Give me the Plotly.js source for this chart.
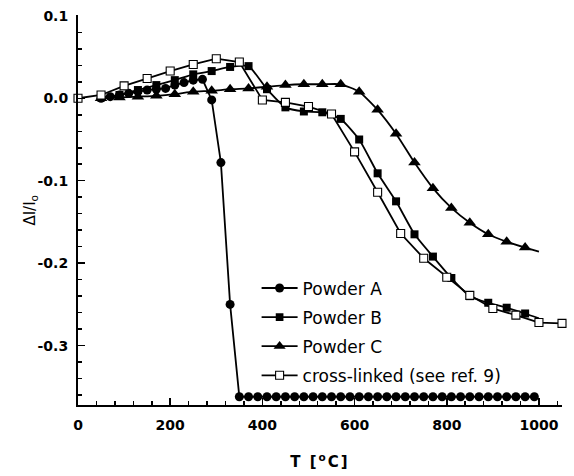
<!DOCTYPE html>
<html>
<head>
<meta charset="utf-8">
<script src="https://cdn.plot.ly/plotly-3.0.1.min.js"></script>
<style>
html,body{margin:0;padding:0;background:#fff;}
#chart{width:574px;height:476px;}
#chart .xtitle{letter-spacing:2px;}
</style>
</head>
<body>
<div id="chart"></div>
<script>
// ---- data ----
const seriesNames = ['Powder A', 'Powder B', 'Powder C', 'cross-linked (see ref. 9)'];

const powderA_T = [50,70,90,110,130,150,170,190,210,230,250,270,290,310,330,350,370,390,410,430,450,470,490,510,530,550,570,590,610,630,650,670,690,710,730,750,770,790,810,830,850,870,890,910,930,950,970,990];
const powderA_dI = [0.000,0.002,0.004,0.006,0.008,0.010,0.011,0.012,0.016,0.019,0.022,0.023,-0.002,-0.078,-0.250,
  -0.362,-0.362,-0.362,-0.362,-0.362,-0.362,-0.362,-0.362,-0.362,-0.362,-0.362,-0.362,-0.362,-0.362,-0.362,-0.362,-0.362,
  -0.362,-0.362,-0.362,-0.362,-0.362,-0.362,-0.362,-0.362,-0.362,-0.362,-0.362,-0.362,-0.362,-0.362,-0.362,-0.362];

const powderB_T = [50,90,130,170,210,250,290,330,370,410,450,490,530,570,610,650,690,730,770,810,850,890,930,970,1000];
const powderB_dI = [0.001,0.004,0.010,0.016,0.022,0.029,0.033,0.038,0.039,0.011,-0.011,-0.016,-0.017,-0.025,-0.050,-0.091,-0.125,-0.165,-0.192,-0.218,-0.240,-0.248,-0.254,-0.261,-0.267];

const powderC_T = [50,90,130,170,210,250,290,330,370,410,450,490,530,570,610,650,690,730,770,810,850,890,930,970,1000];
const powderC_dI = [0.000,0.001,0.002,0.003,0.005,0.008,0.009,0.011,0.012,0.014,0.016,0.017,0.017,0.017,0.008,-0.014,-0.043,-0.078,-0.109,-0.133,-0.151,-0.165,-0.174,-0.181,-0.186];

const crossLinked_T = [0,50,100,150,200,250,300,350,400,450,500,550,600,650,700,750,800,850,900,950,1000,1050];
const crossLinked_dI = [0.000,0.004,0.015,0.024,0.033,0.041,0.048,0.044,-0.002,-0.005,-0.010,-0.019,-0.065,-0.114,-0.164,-0.194,-0.217,-0.239,-0.255,-0.263,-0.272,-0.273];

const xTickVals = [0,200,400,600,800,1000];
const xTickText = ['0','200','400','600','800','1000'];
const yTickVals = [0.1,0.0,-0.1,-0.2,-0.3];
const yTickText = ['0.1','0.0','-0.1','-0.2','-0.3'];

// ---- styling ----
function sizesWithoutLast(arr, s) { return arr.map((_, i) => i === arr.length - 1 ? 0 : s); }

const traces = [
  {
    x: powderA_T, y: powderA_dI, name: seriesNames[0], type: 'scatter', mode: 'lines+markers',
    legendgroup: 'a', cliponaxis: false,
    line: {color: '#000', width: 1.8},
    marker: {symbol: 'circle', size: 9, color: '#000', opacity: 1, line: {width: 0}}
  },
  {
    x: powderB_T, y: powderB_dI, name: seriesNames[1], type: 'scatter', mode: 'lines+markers',
    legendgroup: 'b', cliponaxis: false,
    line: {color: '#000', width: 1.8, shape: 'spline', smoothing: 0.5},
    marker: {symbol: 'square', size: sizesWithoutLast(powderB_T, 8), color: '#000', opacity: 1, line: {width: 0}}
  },
  {
    x: powderC_T, y: powderC_dI, name: seriesNames[2], type: 'scatter', mode: 'lines+markers',
    legendgroup: 'c', cliponaxis: false,
    line: {color: '#000', width: 1.8, shape: 'spline', smoothing: 0.5},
    marker: {symbol: 'triangle-up', size: sizesWithoutLast(powderC_T, 11), color: '#000', opacity: 1, line: {width: 0}}
  },
  {
    x: crossLinked_T, y: crossLinked_dI, name: seriesNames[3], type: 'scatter', mode: 'lines+markers',
    legendgroup: 'd', cliponaxis: false,
    line: {color: '#000', width: 1.8},
    marker: {symbol: 'square', size: 8, color: '#fff', line: {color: '#000', width: 1.1}}
  }
];

const tickFont = {family: 'DejaVu Sans', size: 14, color: '#000', weight: 'bold'};

const layout = {
  width: 574, height: 476,
  margin: {l: 78, r: 12, t: 15, b: 71},
  paper_bgcolor: '#fff', plot_bgcolor: '#fff',
  showlegend: true,
  legend: {
    x: 0.369, y: 0.345, xanchor: 'left', yanchor: 'top',
    bgcolor: 'rgba(0,0,0,0)', borderwidth: 0,
    font: {family: 'DejaVu Sans', size: 17, color: '#000'},
    itemwidth: 36, traceorder: 'grouped', tracegroupgap: 4
  },
  xaxis: {
    range: [0, 1050],
    tickmode: 'array', tickvals: xTickVals, ticktext: xTickText,
    ticks: 'inside', ticklen: 7, tickwidth: 1.5, tickcolor: '#000',
    ticklabelstandoff: 6,
    showline: true, linewidth: 2, linecolor: '#000',
    zeroline: false, showgrid: false,
    minor: {tickmode: 'linear', tick0: 0, dtick: 40, ticks: 'inside', ticklen: 4, tickwidth: 1.5, tickcolor: '#000', showgrid: false},
    tickfont: tickFont,
    title: {text: 'T [<sup>o</sup>C]', font: {family: 'DejaVu Sans', size: 15, color: '#000', weight: 'bold'}, standoff: 25}
  },
  yaxis: {
    range: [-0.372, 0.101],
    tickmode: 'array', tickvals: yTickVals, ticktext: yTickText,
    ticks: 'inside', ticklen: 7, tickwidth: 1.5, tickcolor: '#000',
    ticklabelstandoff: 5,
    showline: true, linewidth: 2, linecolor: '#000',
    zeroline: false, showgrid: false,
    minor: {tickmode: 'linear', tick0: 0, dtick: 0.02, ticks: 'inside', ticklen: 4, tickwidth: 1.5, tickcolor: '#000', showgrid: false},
    tickfont: tickFont
  },
  annotations: [{
    text: '\u0394I/I<sub>o</sub>', xref: 'paper', yref: 'paper',
    x: -0.1, y: 0.5, xanchor: 'center', yanchor: 'middle',
    textangle: -90, showarrow: false,
    font: {family: 'DejaVu Sans', size: 15, color: '#000'}
  }]
};

Plotly.newPlot('chart', traces, layout, {displayModeBar: false, staticPlot: true});
</script>
</body>
</html>
